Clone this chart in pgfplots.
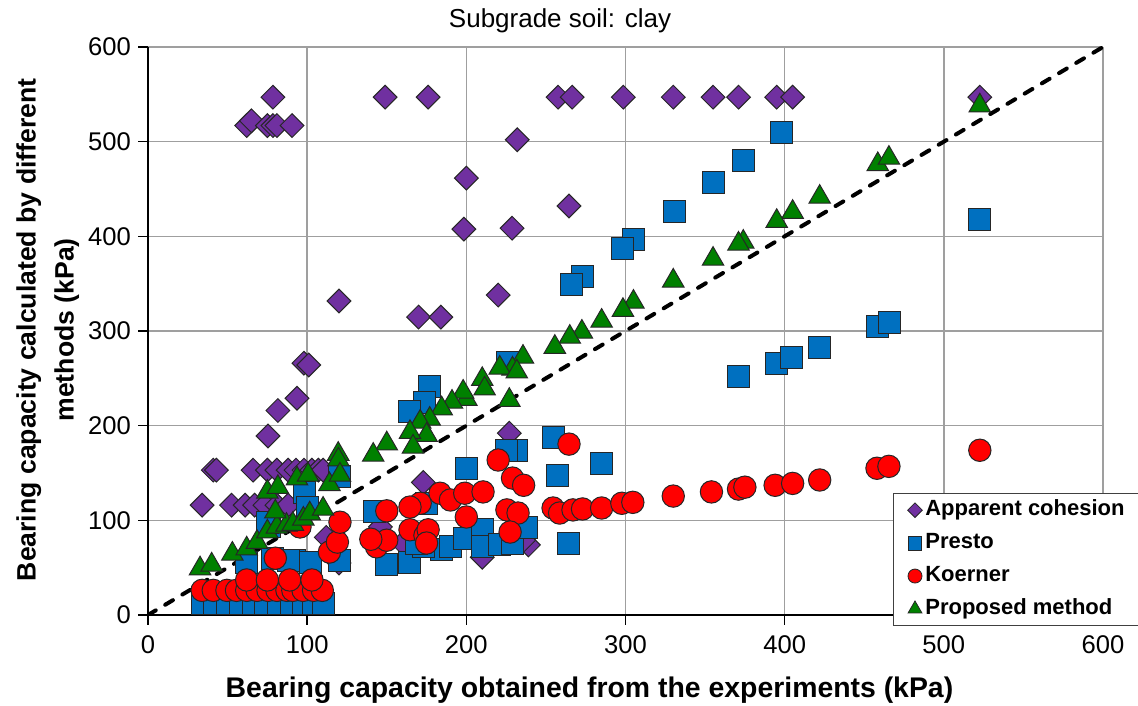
\documentclass[border=0pt]{standalone}
\usepackage{pgfplots}
\pgfplotsset{compat=1.18}
\usepackage{fontspec}
\setmainfont{Liberation Sans}
\definecolor{cPurple}{RGB}{112,48,160}
\definecolor{cBlue}{RGB}{0,112,192}
\definecolor{cRed}{RGB}{255,0,0}
\definecolor{cGreen}{RGB}{0,128,0}
\begin{document}
\begin{tikzpicture}
\begin{axis}[
  scale only axis, width=477.5bp, height=284bp,
  xmin=0, xmax=600, ymin=0, ymax=600,
  xtick={0,100,...,600}, ytick={0,100,...,600},
  grid=major, major grid style={draw=gray!75, line width=0.75bp},
  axis x line*=bottom, axis y line*=left,
  axis line style={black, line width=0.9bp},
  tick align=outside, major tick length=5bp, tick style={black, line width=0.75bp},
  ticklabel style={font=\fontsize{12.8bp}{15bp}\selectfont},
  xticklabel style={yshift=-2bp},
  /pgf/number format/assume math mode=true,
  xlabel={Bearing capacity obtained from the experiments (kPa)},
  ylabel={Bearing capacity calculated by different\\methods (kPa)},
  xlabel style={font=\bfseries\fontsize{14.2bp}{16bp}\selectfont, at={(axis description cs:0.4623,-0.132)}, anchor=center},
  ylabel style={font=\bfseries\fontsize{13.3bp}{19bp}\selectfont, align=center, at={(axis description cs:-0.1049,0.502)}, anchor=center},
  legend image code/.code={\draw[#1] plot coordinates {(0bp,0bp)};},
  legend style={at={(axis description cs:0.780,0.2148)}, anchor=north west,
    draw=black!75, line width=0.75bp, fill=white,
    inner xsep=7bp, inner ysep=2bp, row sep=4bp,
    nodes={inner sep=1.5bp, text depth=0.2em, text height=0.75em},
    font=\bfseries\fontsize{11bp}{12bp}\selectfont},
  legend cell align=left,
]
\addplot[black, line width=2bp, line cap=round, dash pattern=on 4.5bp off 5.5bp, forget plot] coordinates {(0,0) (600,600)};

% Apparent cohesion
\addplot[only marks, mark=square*, mark size=4.2bp, forget plot,
  mark options={rotate=45, fill=cPurple, draw=black!85, line width=0.5bp}] coordinates {
(78.5,547) (149,547) (176,547) (257.6,547) (266.5,547) (298.6,547) (330,547) (355,547)
(371,547) (395,547) (405,547) (522.6,547)
(62,517) (65,522) (75,517) (78.5,517) (81,517) (90.5,517)
(232,502) (200,461.5) (198.5,407.6) (228.7,408.6) (120,331.6) (170,314.7) (184,314.7)
(220,338) (264.5,432) (98,266) (101,264) (93.6,229) (81.6,216) (75.4,189)
(41,153) (43,153) (66,153) (75,153) (81,153) (88,153) (93,153) (98,153) (103,153) (107,153) (110,153)
(34,116) (52.5,116) (61,116) (67,116) (73.5,116) (81,116) (88,116)
(112,82) (120,55) (227,192) (173,140) (239,74) (210,61) (160,76) (146,93) (236,79)
};

% Presto
\addplot[only marks, mark=square*, mark size=5.5bp, forget plot,
  mark options={fill=cBlue, draw=black!85, line width=0.5bp}] coordinates {
(398,510) (374,480.5) (355,457) (330.5,426.6) (305,397) (298.4,387.6) (273,358) (266,349.5)
(522.6,418) (370.7,252) (395,266) (404.5,272.5) (422,283) (458.5,305) (466,309)
(177,241) (174,224) (164.6,214.6) (226,267) (231.7,174) (254.5,187) (225.5,174)
(200,155) (257.5,147) (285,159.5) (264.5,76)
(150,53) (164.6,55) (184.6,69) (190,72) (199,81) (210,90) (210,72) (221,74) (229,76)
(238,92) (173,72) (175,118) (142.6,109) (169,76)
(34,12) (42,12) (50,12) (58,12) (66,12) (74,12) (82,12) (90,12) (98,12) (104,12) (110,12)
(62,55) (92,58) (101.8,55) (76.6,93) (120.6,58) (120.6,146) (98.6,129) (100,114) (75,98)
(78,60) (88,58)
};

% Koerner
\addplot[only marks, mark=*, mark size=5.6bp, forget plot,
  mark options={fill=cRed, draw=black!85, line width=0.5bp}] coordinates {
(264.5,180.5) (220,163.7) (229,144.6) (236,137) (183.5,128.6) (190,121.5) (199,128.6)
(210.5,130) (171,118) (164.6,114) (150,110) (200,103.5) (225.5,111) (232.5,107.7)
(227.5,87.6) (254.5,113) (258.6,107.7) (267,111) (273,112) (285,113) (297.7,118)
(304.6,119) (164.6,90) (174,84) (176,90) (175,76) (143.6,72) (150,79) (140,80)
(330,125.6) (354,130) (371,133) (375,135) (394,137) (405,139) (422,142.6) (458,155)
(465.5,157) (522.6,174)
(34,26) (41,26) (49.6,26) (55.6,26) (62,26) (68.5,26) (75.4,26) (81,26) (87.3,26)
(91,26) (97.4,26) (104,26) (109.5,26)
(62,37) (75,37) (89,37) (103,37)
(80,60) (114,66.5) (119,77) (120.6,98) (95.5,93)
};

% Proposed method
\addplot[only marks, mark=triangle*, mark size=6.2bp, forget plot,
  mark options={fill=cGreen, draw=black!85, line width=0.5bp}] coordinates {
(522.6,538) (458.5,476) (465.5,482.7) (422,441.5) (405,425.6) (395,416) (374,394) (371,392)
(355,376) (330,353) (305,330.6) (298.4,322) (285,310.6) (272.6,299) (265,293.6) (255.6,283)
(235.6,272.5) (229,260) (221,261) (231.7,257) (227,227) (210,249) (211.5,239) (200,228)
(198,235.6) (191,225) (184.5,218) (177,207) (171,204) (175,190) (164.6,193) (150,181)
(166.5,177.6) (119.5,170) (141.5,169)
(32.7,49) (40,53) (53,64.5) (62,70) (68.5,77) (75,88) (81,93) (87,95) (91,96) (97.6,101.5)
(101.6,107) (110,112) (80,109) (75,130) (81.6,135) (93.6,144) (100.6,148) (114,138)
(119.6,164) (120.6,148)
};

\addlegendimage{only marks, mark=square*, mark size=2.6bp, mark options={rotate=45, fill=cPurple, draw=black!85, line width=0.4bp}}
\addlegendentry{Apparent cohesion}
\addlegendimage{only marks, mark=square*, mark size=3.4bp, mark options={fill=cBlue, draw=black!85, line width=0.4bp}}
\addlegendentry{Presto}
\addlegendimage{only marks, mark=*, mark size=3.5bp, mark options={fill=cRed, draw=black!85, line width=0.4bp}}
\addlegendentry{Koerner}
\addlegendimage{only marks, mark=triangle*, mark size=4bp, mark options={fill=cGreen, draw=black!85, line width=0.4bp}}
\addlegendentry{Proposed method}
\end{axis}
\node[font=\fontsize{13bp}{15bp}\selectfont, anchor=center, inner sep=0pt] at ([shift={(206bp,13bp)}]current axis.north west) {Subgrade soil: clay};
\pgfresetboundingbox
\path[use as bounding box] ([shift={(-74bp,-45.5bp)}]current axis.south west) rectangle ([shift={(17.5bp,23.5bp)}]current axis.north east);
\end{tikzpicture}
\end{document}
